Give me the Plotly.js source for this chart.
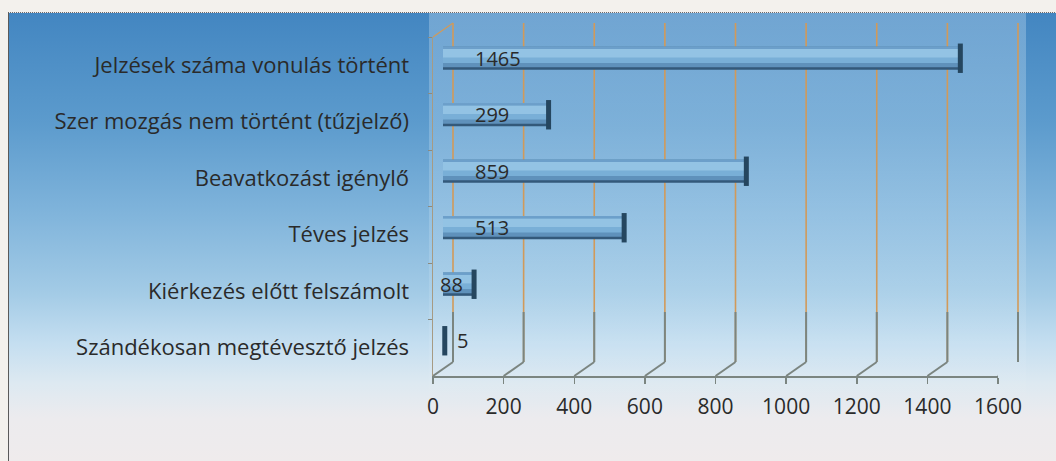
<!DOCTYPE html>
<html>
<head>
<meta charset="utf-8">
<script src="https://cdn.plot.ly/plotly-3.0.1.min.js"></script>
<style>
  html, body { margin: 0; padding: 0; background: #f3f1ed; }
  #wrap { position: relative; width: 1056px; height: 461px; overflow: hidden; }
  #bg { position: absolute; left: 8px; top: 12px; width: 1048px; height: 449px;
        border-left: 1px solid #5a5a5a; border-top: 1px dotted #6a6a6a;
        background: linear-gradient(to bottom, #4386c1 0px, #5c9bcd 110px, #80b4db 200px, #a3cbe6 280px, #c4def0 330px, #dde9f1 370px, #ecebee 405px, #efebec 449px); }
  #band { position: absolute; left: 429px; top: 13px; width: 597px; height: 448px;
          background: linear-gradient(to bottom, rgba(230,245,255,0.28) 0px, rgba(230,245,255,0.2) 200px, rgba(255,255,255,0.08) 330px, rgba(255,255,255,0) 400px); }
  #chart { position: absolute; left: 0; top: 0; width: 1056px; height: 461px; }
</style>
</head>
<body>
<div id="wrap">
  <div id="bg"></div>
  <div id="band"></div>
  <div id="chart"></div>
</div>
<script>
// ---- data ----
const categories = [
  "Jelzések száma vonulás történt",
  "Szer mozgás nem történt (tűzjelző)",
  "Beavatkozást igénylő",
  "Téves jelzés",
  "Kiérkezés előtt felszámolt",
  "Szándékosan megtévesztő jelzés"
];
const values = [1465, 299, 859, 513, 88, 5];
const xTicks = [0, 200, 400, 600, 800, 1000, 1200, 1400, 1600];
const xTickLabels = ["0", "200", "400", "600", "800", "1000", "1200", "1400", "1600"];

// ---- geometry helpers (pixel -> paper) ----
const W = 1056, H = 461;
const px = x => x / W;
const py = y => 1 - y / H;
const XMAX = 1600;
const FRONT = {x0: 433, x1: 998, y0: 37, y1: 376};
const DEPTH = {dx: 20, dy: 14};
const MID = {x0: FRONT.x0 + DEPTH.dx/2, x1: FRONT.x1 + DEPTH.dx/2, y0: FRONT.y0 - DEPTH.dy/2, y1: FRONT.y1 - DEPTH.dy/2};
const BACK = {x0: FRONT.x0 + DEPTH.dx, x1: FRONT.x1 + DEPTH.dx, y0: FRONT.y0 - DEPTH.dy, y1: FRONT.y1 - DEPTH.dy};
const CAT_RANGE = [categories.length - 0.5, -0.5]; // top-to-bottom order
const PAD = 12;
const PXU = (FRONT.x1 - FRONT.x0) / XMAX;

const FONT = "Open Sans, Noto Sans, sans-serif";
const TXT = "#2a2a2a";
const TAN = "#d19a5a";
const GREY = "#7b8580";

// ---- cylinder-like bars: overlaid layers ----
const layers = [
  {offset: -0.205, width: 0.41, color: "#33597a"},
  {offset: -0.205, width: 0.365, color: "#5f91bb"},
  {offset: -0.205, width: 0.29, color: "#79afd7"},
  {offset: -0.165, width: 0.15, color: "#93c3e4"},
  {offset: -0.205, width: 0.04, color: "#6c9fca"}
];
const traces = [];
traces.push({type: "scatter", mode: "none", x: values, y: categories, xaxis: "x", yaxis: "y", hoverinfo: "skip", showlegend: false});
layers.forEach(L => {
  traces.push({
    type: "bar", orientation: "h", x: values, y: categories,
    xaxis: "x2", yaxis: "y2",
    width: L.width, offset: L.offset,
    marker: {color: L.color, line: {width: 0}},
    hoverinfo: "skip", showlegend: false
  });
});
traces.push({
  type: "scatter", mode: "markers", x: values, y: categories, xaxis: "x2", yaxis: "y2",
  marker: {symbol: "line-ns-open", size: 21, color: "#25465f", line: {width: 5, color: "#25465f"}},
  hoverinfo: "skip", showlegend: false, cliponaxis: false
});
traces.push({type: "scatter", mode: "none", x: values, y: categories, xaxis: "x3", yaxis: "y3", hoverinfo: "skip", showlegend: false});

// value labels
const annotations = values.map((v, i) => {
  let x = 0, shift = 30;
  if (v < 50) { x = v; shift = 10; }
  else if (v < 150) { shift = -5; }
  return {
    xref: "x2", yref: "y2", x: x, y: categories[i], xanchor: "left", yanchor: "middle",
    xshift: shift, text: String(v), showarrow: false,
    font: {family: FONT, size: 20, color: TXT}
  };
});

// back-wall gridlines, floor slants, lower grey segments
const shapes = [];
xTicks.forEach(v => {
  shapes.push({type: "line", xref: "x", x0: v, x1: v, yref: "paper", y0: py(BACK.y1), y1: py(BACK.y0),
    line: {color: TAN, width: 1.6}, layer: "below"});
});
xTicks.forEach(v => {
  shapes.push({type: "line", xref: "x3", xsizemode: "pixel", xanchor: v, x0: 0, x1: DEPTH.dx,
    yref: "paper", ysizemode: "pixel", yanchor: py(FRONT.y1), y0: 0, y1: DEPTH.dy,
    line: {color: GREY, width: 2}, layer: "below"});
  shapes.push({type: "line", xref: "x", x0: v, x1: v, yref: "paper", y0: py(BACK.y1), y1: py(312),
    line: {color: GREY, width: 2}, layer: "below"});
});
shapes.push({type: "line", xref: "x3", xsizemode: "pixel", xanchor: 0, x0: 0, x1: DEPTH.dx,
  yref: "paper", ysizemode: "pixel", yanchor: py(FRONT.y0), y0: 0, y1: DEPTH.dy,
  line: {color: TAN, width: 1.2}, layer: "below"});

const hidden = {showgrid: false, showticklabels: false, showline: false, zeroline: false, ticks: ""};

const layout = {
  width: W, height: H,
  margin: {l: 0, r: 0, t: 0, b: 0},
  paper_bgcolor: "rgba(0,0,0,0)",
  plot_bgcolor: "rgba(0,0,0,0)",
  barmode: "overlay",
  showlegend: false,
  hovermode: false,
  xaxis: Object.assign({}, hidden, {domain: [px(BACK.x0 - PAD * PXU), px(BACK.x1 + PAD * PXU)],
    range: [-PAD, XMAX + PAD], anchor: "y"}),
  yaxis: Object.assign({}, hidden, {domain: [py(BACK.y1), py(BACK.y0)], anchor: "x", type: "category",
    range: CAT_RANGE}),
  xaxis2: Object.assign({}, hidden, {domain: [px(MID.x0), px(MID.x1)], range: [0, XMAX], anchor: "y2"}),
  yaxis2: Object.assign({}, hidden, {domain: [py(MID.y1), py(MID.y0)], anchor: "x2", type: "category",
    range: CAT_RANGE}),
  xaxis3: {domain: [px(FRONT.x0), px(FRONT.x1)], range: [0, XMAX], anchor: "y3",
    tickvals: xTicks, ticktext: xTickLabels, showgrid: false, zeroline: false,
    showline: true, linecolor: GREY, linewidth: 2, ticks: "outside", ticklen: 6, tickcolor: GREY, tickwidth: 1.5,
    ticklabelstandoff: 5,
    tickfont: {family: FONT, size: 21, color: TXT}},
  yaxis3: {domain: [py(FRONT.y1), py(FRONT.y0)], anchor: "x3", type: "category", range: CAT_RANGE,
    showgrid: false, zeroline: false, showline: true, linecolor: "#a69b84", linewidth: 1.5,
    ticks: "outside", tickson: "boundaries", ticklen: 4, tickcolor: "#8a8a80", tickwidth: 1,
    ticklabelstandoff: 18,
    tickfont: {family: FONT, size: 22, color: TXT}},
  annotations: annotations,
  shapes: shapes
};

Plotly.newPlot("chart", traces, layout, {staticPlot: true, displayModeBar: false});
</script>
</body>
</html>
